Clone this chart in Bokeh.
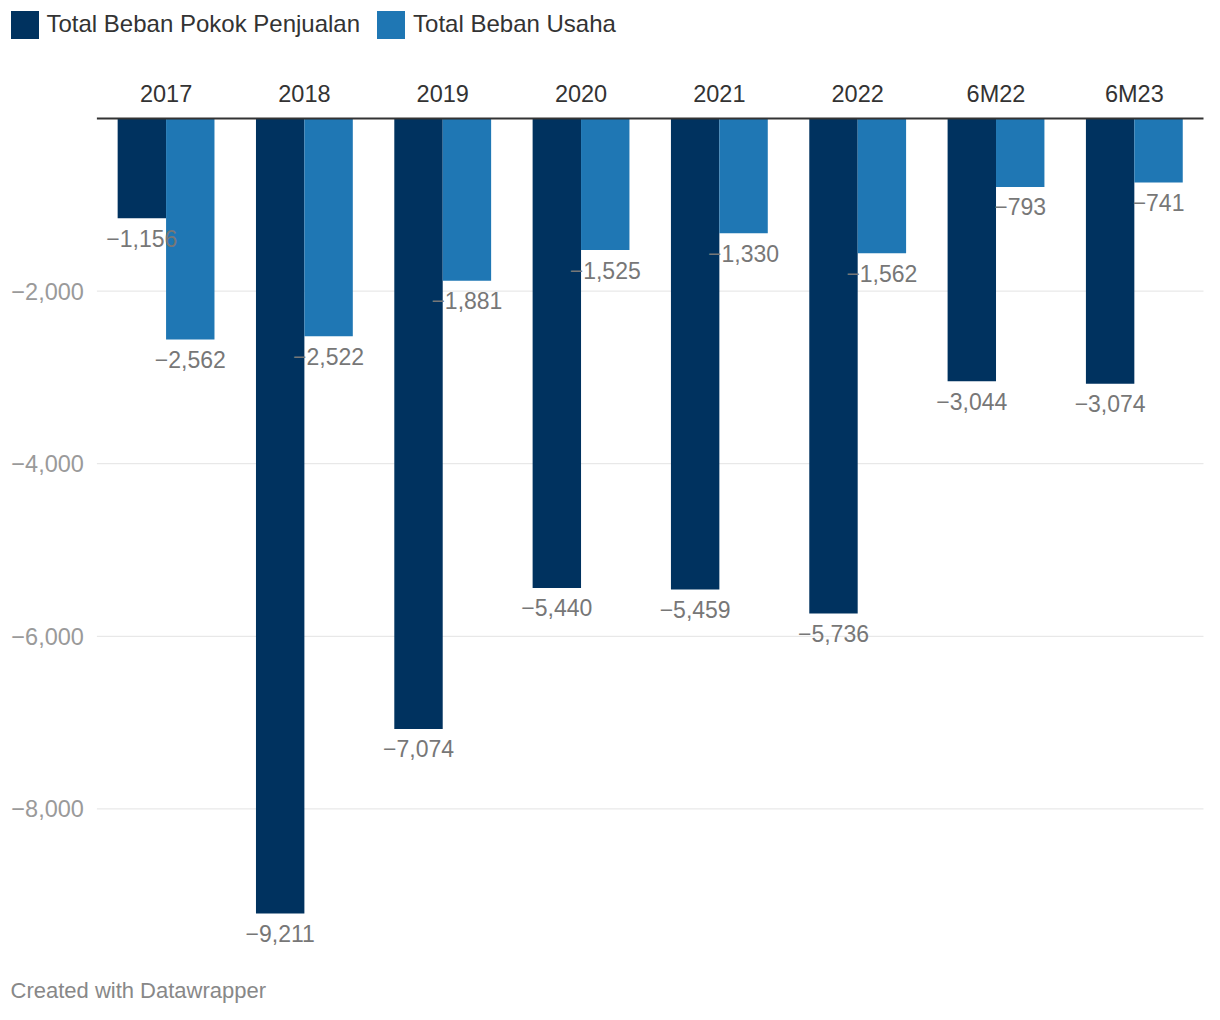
from bokeh.plotting import figure
from bokeh.models import ColumnDataSource, Range1d, Legend, LegendItem, Label
from bokeh.transform import dodge
from bokeh.core.properties import value
from bokeh.embed import file_html
from bokeh.resources import INLINE

# ---------------- data ----------------
categories = ["2017", "2018", "2019", "2020", "2021", "2022", "6M22", "6M23"]
beban_pokok = [-1156, -9211, -7074, -5440, -5459, -5736, -3044, -3074]
beban_usaha = [-2562, -2522, -1881, -1525, -1330, -1562, -793, -741]
series_names = ["Total Beban Pokok Penjualan", "Total Beban Usaha"]
y_ticks = [-8000, -6000, -4000, -2000]
y_tick_labels = ["\u22128,000", "\u22126,000", "\u22124,000", "\u22122,000"]
footer = "Created with Datawrapper"


def fmt(v):
    return f"{v:,}".replace("-", "\u2212")


FONT = "Liberation Sans"
DARK = "#00325f"
LIGHT = "#1f77b4"

# ---------------- layout (pixels) ----------------
W, H = 1204, 1004
n = len(categories)
PLOT_LEFT_PX = 96.4
PLOT_RIGHT_PX = 1203.0
PX_PER_CAT = (PLOT_RIGHT_PX - PLOT_LEFT_PX) / n
FIRST_CAT_PX = PLOT_LEFT_PX + PX_PER_CAT / 2
ZERO_PX = 118.0
PX_PER_UNIT = 0.0863

x_start = -FIRST_CAT_PX / PX_PER_CAT
x_end = (W - FIRST_CAT_PX) / PX_PER_CAT
y_end = ZERO_PX / PX_PER_UNIT
y_start = -(H - ZERO_PX) / PX_PER_UNIT

idx = list(range(n))
src = ColumnDataSource(dict(
    idx=idx,
    cat=categories,
    pokok=beban_pokok,
    usaha=beban_usaha,
    zero=[0] * n,
    pokok_lbl=[fmt(v) for v in beban_pokok],
    usaha_lbl=[fmt(v) for v in beban_usaha],
))
tick_src = ColumnDataSource(dict(y=y_ticks, lbl=y_tick_labels,
                                 x0=[-0.5] * len(y_ticks), x1=[n - 0.5] * len(y_ticks)))

p = figure(x_range=Range1d(x_start, x_end), y_range=Range1d(y_start, y_end),
           width=W, height=H, output_backend="svg", toolbar_location=None,
           min_border_left=0, min_border_right=0, min_border_top=0, min_border_bottom=0)
p.axis.visible = False
p.grid.visible = False
p.outline_line_color = None
p.background_fill_color = "white"
p.border_fill_color = "white"

# gridlines
p.segment(x0="x0", x1="x1", y0="y", y1="y", source=tick_src,
          line_color="#e3e3e3", line_width=1)
# y tick labels
p.text(x="x0", y="y", text="lbl", source=tick_src, x_offset=-13,
       text_align="right", text_baseline="middle",
       text_font=value(FONT), text_font_size="23.5px", text_color="#9a9a9a")

# bars
r1 = p.vbar(x=dodge("idx", -0.175), top="zero", bottom="pokok",
            width=0.35, source=src, fill_color=DARK, line_color=None)
r2 = p.vbar(x=dodge("idx", 0.175), top="zero", bottom="usaha",
            width=0.35, source=src, fill_color=LIGHT, line_color=None)

# zero line
p.segment(x0=-0.5, x1=n - 0.5, y0=0, y1=0, line_color="#333333", line_width=2)

# category labels
p.text(x="idx", y="zero", text="cat", source=src, y_offset=-25,
       text_align="center", text_baseline="alphabetic",
       text_font=value(FONT), text_font_size="23.5px", text_color="#333333")

# value labels
for col, lbl, off in (("pokok", "pokok_lbl", -0.175), ("usaha", "usaha_lbl", 0.175)):
    p.text(x=dodge("idx", off), y=col, text=lbl, source=src,
           text_align="center", text_baseline="alphabetic", y_offset=20,
           text_font=value(FONT), text_font_size="23px", text_color="#777777")

# legend
legend = Legend(items=[LegendItem(label=series_names[0], renderers=[r1]),
                       LegendItem(label=series_names[1], renderers=[r2])],
                location=(6.5, H - 6.5 - 35), orientation="horizontal",
                glyph_width=35, glyph_height=35, label_standoff=5, spacing=13,
                padding=0, margin=0, border_line_color=None,
                background_fill_alpha=0,
                label_text_font=FONT, label_text_font_size="24px",
                label_text_color="#333333")
p.add_layout(legend, "center")

# footer
p.add_layout(Label(x=10, y=14, x_units="screen", y_units="screen", text=footer,
                   text_font=FONT, text_font_size="22px", text_color="#888888",
                   text_baseline="alphabetic"))

open("out.html", "w").write(file_html(p, INLINE))
